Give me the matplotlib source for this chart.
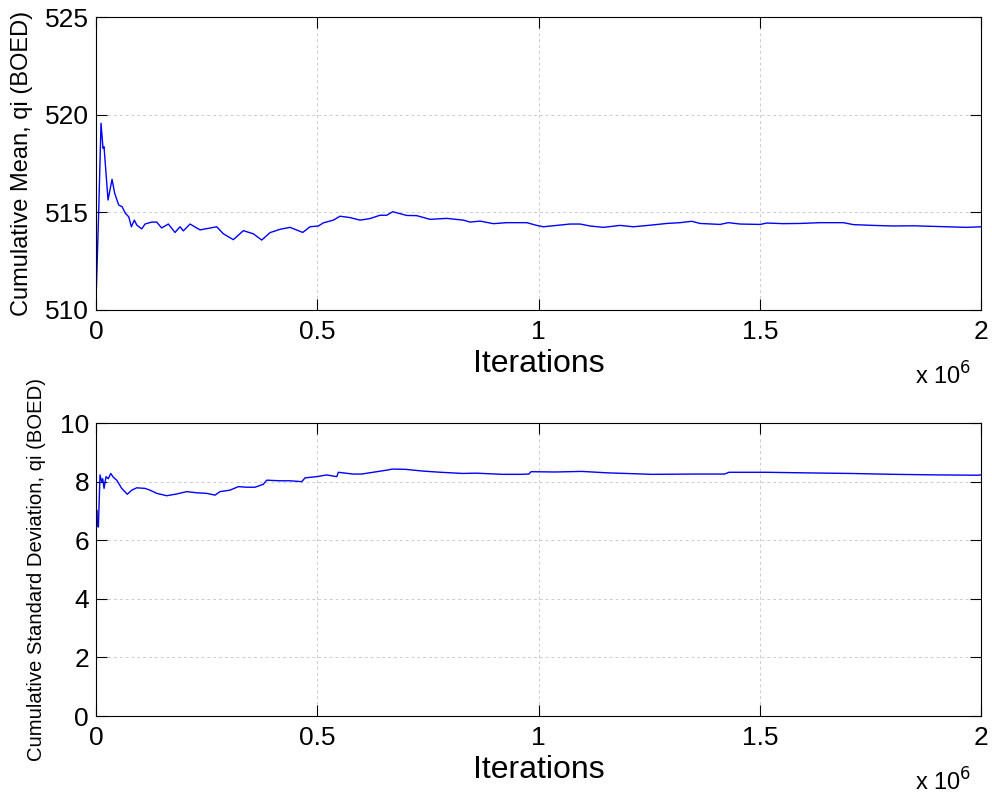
import matplotlib
matplotlib.use("Agg")
import matplotlib.pyplot as plt
from matplotlib.ticker import FuncFormatter

plt.rcParams["font.family"] = ["Liberation Sans", "DejaVu Sans"]

# Cumulative mean
mean_iter = [0, 800, 6000, 11300, 15800, 18100, 27100, 36200, 42200, 51300,
             58800, 66300, 73900, 79900, 86600, 92000, 103300, 110700, 125900,
             137000, 148300, 163400, 178500, 189800, 197300, 212400, 235000,
             272800, 287700, 310300, 332900, 355500, 374500, 393200, 415800,
             438400, 467100, 483600, 502400, 513700, 536300, 551400, 574000,
             596600, 619200, 641800, 657000, 670500, 702100, 724700, 754800,
             792500, 830100, 845200, 867800, 897900, 928100, 973300, 995900,
             1010800, 1041100, 1071200, 1093800, 1116400, 1146500, 1184200,
             1214200, 1252000, 1289700, 1319800, 1346200, 1365000, 1410200,
             1428900, 1455400, 1500600, 1515700, 1553200, 1591000, 1636200,
             1688800, 1711400, 1756600, 1801800, 1847000, 1922400, 1967600,
             2000000]
mean_val = [521.1, 511.1, 515.0, 519.56, 518.28, 518.36, 515.63, 516.69, 515.97,
            515.37, 515.29, 514.95, 514.77, 514.26, 514.6, 514.35, 514.15, 514.4,
            514.5, 514.5, 514.2, 514.4, 513.97, 514.26, 514.05, 514.4, 514.1,
            514.26, 513.9, 513.6, 514.06, 513.9, 513.58, 513.96, 514.13, 514.23,
            513.97, 514.26, 514.3, 514.46, 514.6, 514.8, 514.73, 514.6, 514.68,
            514.85, 514.85, 515.03, 514.84, 514.83, 514.64, 514.69, 514.6, 514.5,
            514.55, 514.42, 514.47, 514.47, 514.33, 514.26, 514.33, 514.4, 514.4,
            514.3, 514.23, 514.33, 514.26, 514.34, 514.43, 514.47, 514.54, 514.43,
            514.38, 514.47, 514.4, 514.38, 514.45, 514.42, 514.43, 514.47, 514.47,
            514.37, 514.33, 514.3, 514.31, 514.26, 514.23, 514.26]

# Cumulative standard deviation
std_iter = [0, 1500, 2900, 5300, 9000, 12900, 15100, 18100, 22600, 27800, 33200,
            39100, 46800, 58100, 70700, 80700, 92000, 110700, 122000, 137200,
            159800, 182400, 205000, 227600, 250200, 268900, 280200, 302800,
            321600, 340600, 359300, 378100, 385800, 415800, 438400, 464900,
            472300, 498800, 521400, 544000, 547600, 580300, 600200, 630100,
            659900, 669800, 699700, 739400, 779200, 828900, 858800, 918400,
            958200, 978100, 983100, 1037700, 1097400, 1157100, 1256500, 1356000,
            1420300, 1430500, 1514800, 1604500, 1704000, 1803400, 1902800,
            1992100, 2000000]
std_val = [6.24, 7.03, 6.52, 6.45, 8.23, 8.0, 8.1, 7.77, 8.17, 8.1, 8.28, 8.15,
           8.05, 7.77, 7.57, 7.71, 7.79, 7.77, 7.71, 7.6, 7.52, 7.58, 7.66, 7.62,
           7.6, 7.54, 7.66, 7.71, 7.83, 7.81, 7.81, 7.91, 8.05, 8.03, 8.03, 8.0,
           8.13, 8.17, 8.23, 8.17, 8.32, 8.26, 8.26, 8.33, 8.4, 8.43, 8.42, 8.36,
           8.32, 8.28, 8.29, 8.25, 8.25, 8.26, 8.34, 8.33, 8.35, 8.3, 8.25, 8.26,
           8.26, 8.32, 8.32, 8.3, 8.28, 8.25, 8.23, 8.22, 8.23]

x_ticks = [0, 0.5e6, 1e6, 1.5e6, 2e6]


def style_axes(ax, ylim, yticks, ylabel, ylabel_size):
    ax.set_xlim(0, 2e6)
    ax.set_ylim(*ylim)
    ax.set_xticks(x_ticks)
    ax.set_yticks(yticks)
    ax.xaxis.set_major_formatter(FuncFormatter(lambda v, p: f"{v / 1e6:g}"))
    ax.tick_params(direction="in", length=8, width=0.8, top=True, right=True,
                   labelsize=19)
    ax.tick_params(axis="x", pad=7)
    ax.tick_params(axis="y", pad=5)
    ax.grid(True, color="#cccccc", linestyle=(0, (3, 3)), linewidth=0.7)
    ax.set_xlabel("Iterations", fontsize=23, labelpad=4)
    ax.set_ylabel(ylabel, fontsize=ylabel_size)
    for s in ax.spines.values():
        s.set_linewidth(0.8)
    ax.text(0.9886, -0.225, r"x 10$^{6}$", transform=ax.transAxes, ha="right",
            va="center", fontsize=17)


fig = plt.figure(figsize=(9.92, 7.96), dpi=100)
ax1 = fig.add_axes([0.0968, 0.6106, 0.8922, 0.368])
ax2 = fig.add_axes([0.0968, 0.1005, 0.8922, 0.368])

ax1.plot(mean_iter, mean_val, color="#0000ff", linewidth=1)
style_axes(ax1, (510, 525), [510, 515, 520, 525], "Cumulative Mean, qi (BOED)", 17)

ax2.plot(std_iter, std_val, color="#0000ff", linewidth=1)
style_axes(ax2, (0, 10), [0, 2, 4, 6, 8, 10],
           "Cumulative Standard Deviation, qi (BOED)", 14.6)

ax1.yaxis.set_label_coords(-0.071, 0.5)
ax2.yaxis.set_label_coords(-0.057, 0.5)

fig.savefig("out.png", dpi=100)
